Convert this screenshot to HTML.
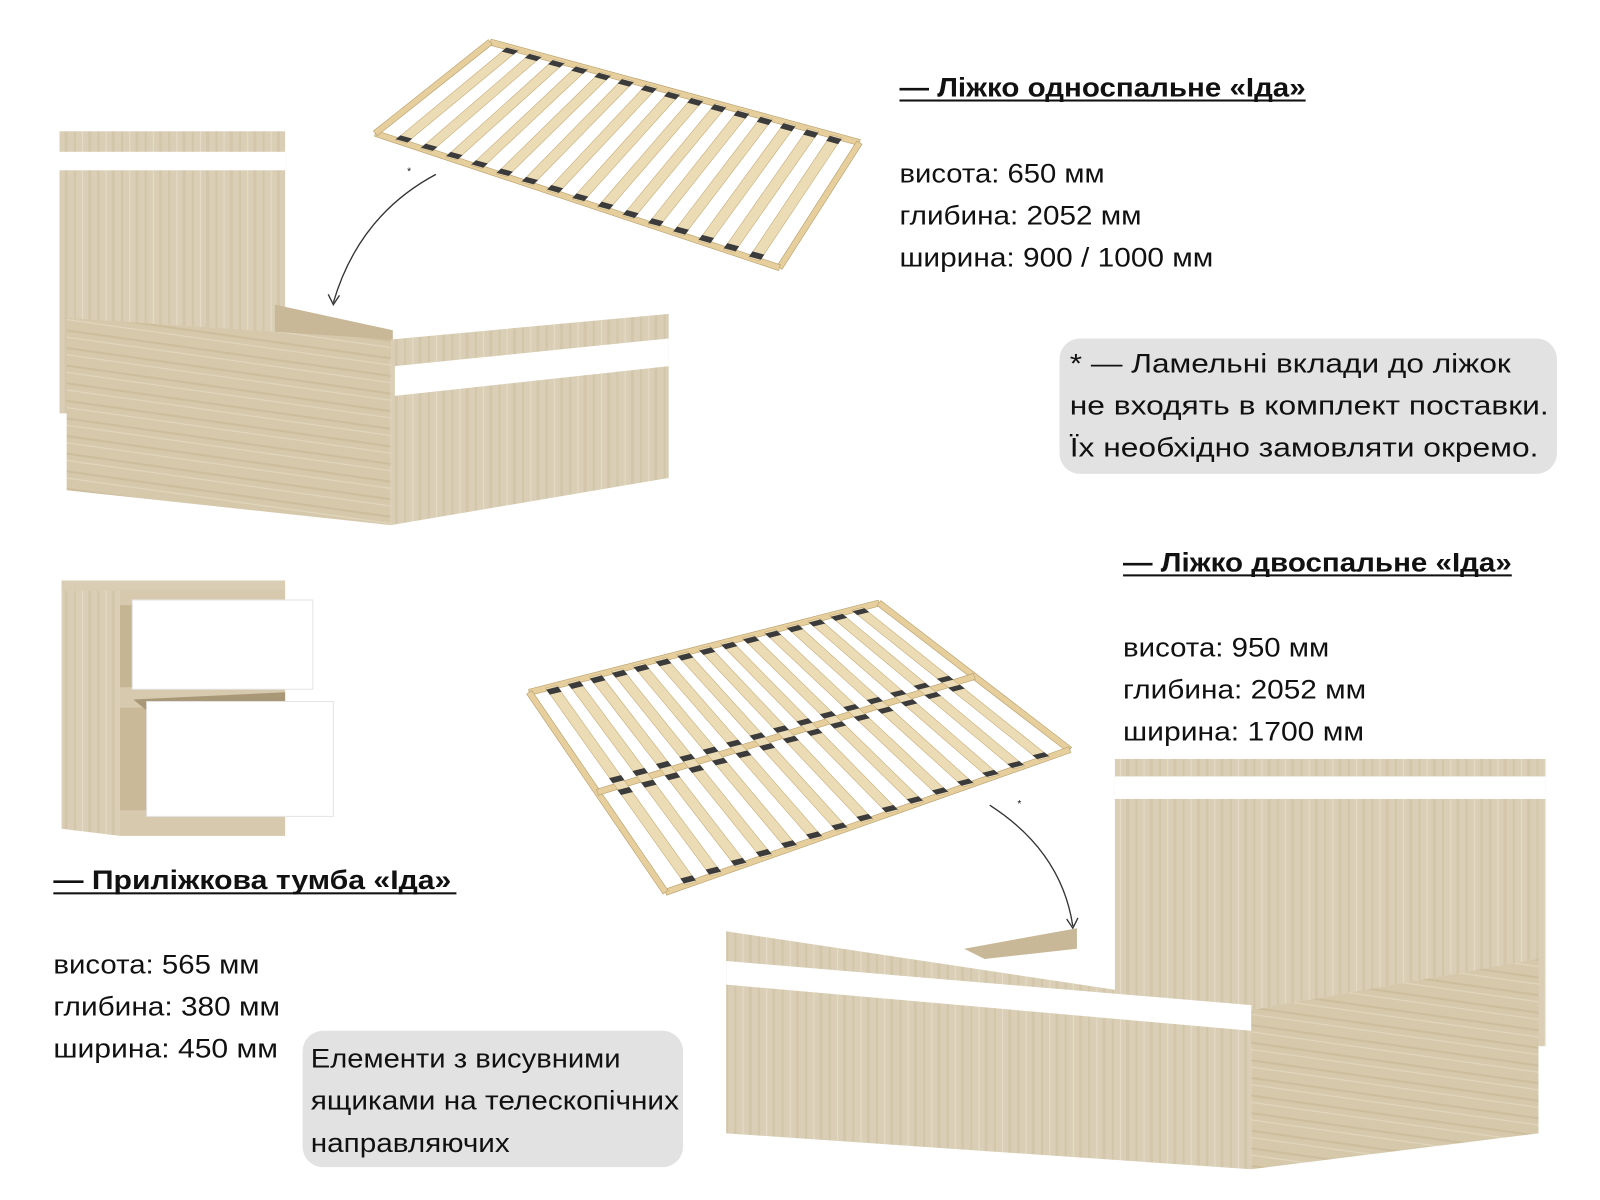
<!DOCTYPE html>
<html><head><meta charset="utf-8">
<style>
html,body{margin:0;padding:0;background:#fff;}
svg{display:block;}
text{font-family:"Liberation Sans","DejaVu Sans",sans-serif;fill:#111;}
.t{font-size:26px;font-weight:bold;}
.s{font-size:26px;}
.b{font-size:26px;}
</style></head><body>
<svg id="sv" width="1600" height="1200" viewBox="0 0 1560 1170" xmlns="http://www.w3.org/2000/svg">
<defs>
<pattern id="gv" width="23" height="60" patternUnits="userSpaceOnUse">
<rect width="23" height="60" fill="#dacfb6"/>
<rect x="3" width="2" height="60" fill="#c9ba98" opacity=".45"/>
<rect x="11" width="1" height="60" fill="#e8dfcb" opacity=".8"/>
<rect x="17" width="3" height="60" fill="#c4b48e" opacity=".3"/>
</pattern>
<pattern id="gh" width="60" height="17" patternUnits="userSpaceOnUse" patternTransform="rotate(8)">
<rect width="60" height="17" fill="#d5c8ab"/>
<rect y="3" width="60" height="2" fill="#c2b08a" opacity=".45"/>
<rect y="10" width="60" height="1" fill="#e6dcc6" opacity=".8"/>
</pattern>
</defs>

<!-- Single bed -->
<rect x="58" y="128" width="220" height="275" fill="url(#gv)"/>
<rect x="58" y="148" width="220" height="18" fill="#fff"/>
<polygon points="268,297 383,322 383,350 268,325" fill="#c8b898"/>
<polygon points="200,320 300,327 300,360 200,345" fill="#cdbd9d"/>
<polygon points="65,310 381,331 381,512 65,478" fill="url(#gh)"/>
<polygon points="381,331 652,306 652,466 381,512" fill="url(#gv)"/>
<polygon points="385,357 652,330 652,357 385,386" fill="#fff"/>

<!-- single slats -->
<g id="s1"></g>
<text x="397" y="170" style="font-size:10px">*</text>
<path d="M425,170 Q350,210 325,295" fill="none" stroke="#333" stroke-width="1.3"/>
<path d="M320,287 L325,297 L331,288" fill="none" stroke="#333" stroke-width="1.3"/>

<!-- Text block 1 -->
<text class="t" x="877" y="94" textLength="396" lengthAdjust="spacingAndGlyphs">— Ліжко односпальне «Іда»</text>
<rect x="877" y="97" width="396" height="2" fill="#111"/>
<text class="s" x="877" y="178" textLength="200" lengthAdjust="spacingAndGlyphs">висота: 650 мм</text>
<text class="s" x="877" y="219" textLength="236" lengthAdjust="spacingAndGlyphs">глибина: 2052 мм</text>
<text class="s" x="877" y="260" textLength="306" lengthAdjust="spacingAndGlyphs">ширина: 900 / 1000 мм</text>

<rect x="1033" y="330" width="485" height="132" rx="20" fill="#e2e2e2"/>
<text class="b" x="1043" y="363" textLength="430" lengthAdjust="spacingAndGlyphs">* — Ламельні вклади до ліжок</text>
<text class="b" x="1043" y="404" textLength="467" lengthAdjust="spacingAndGlyphs">не входять в комплект поставки.</text>
<text class="b" x="1043" y="445" textLength="457" lengthAdjust="spacingAndGlyphs">Їх необхідно замовляти окремо.</text>

<!-- Nightstand -->
<polygon points="60,567 117,575 117,815 60,808" fill="url(#gv)"/>
<rect x="60" y="566" width="218" height="10" fill="#d9cdb3"/>
<rect x="117" y="575" width="161" height="240" fill="#d6c9ad"/>
<rect x="117" y="590" width="15" height="80" fill="#c5b593"/>
<rect x="117" y="690" width="30" height="100" fill="#c9b998"/>
<polygon points="130,682 278,675 278,690 147,696" fill="#a99878"/>
<rect x="129" y="585" width="176" height="87" fill="#fff" stroke="#e4e4e4"/>
<rect x="143" y="684" width="182" height="112" fill="#fff" stroke="#e4e4e4"/>

<text class="t" x="52" y="867" textLength="388" lengthAdjust="spacingAndGlyphs">— Приліжкова тумба «Іда»</text>
<rect x="52" y="870" width="393" height="2" fill="#111"/>
<text class="s" x="52" y="949" textLength="201" lengthAdjust="spacingAndGlyphs">висота: 565 мм</text>
<text class="s" x="52" y="990" textLength="221" lengthAdjust="spacingAndGlyphs">глибина: 380 мм</text>
<text class="s" x="52" y="1031" textLength="219" lengthAdjust="spacingAndGlyphs">ширина: 450 мм</text>

<rect x="295" y="1005" width="371" height="133" rx="20" fill="#e2e2e2"/>
<text class="b" x="303" y="1041" textLength="302" lengthAdjust="spacingAndGlyphs">Елементи з висувними</text>
<text class="b" x="303" y="1082" textLength="359" lengthAdjust="spacingAndGlyphs">ящиками на телескопічних</text>
<text class="b" x="303" y="1123" textLength="194" lengthAdjust="spacingAndGlyphs">направляючих</text>

<!-- Double bed text -->
<text class="t" x="1095" y="557" textLength="379" lengthAdjust="spacingAndGlyphs">— Ліжко двоспальне «Іда»</text>
<rect x="1095" y="560" width="379" height="2" fill="#111"/>
<text class="s" x="1095" y="640" textLength="201" lengthAdjust="spacingAndGlyphs">висота: 950 мм</text>
<text class="s" x="1095" y="681" textLength="237" lengthAdjust="spacingAndGlyphs">глибина: 2052 мм</text>
<text class="s" x="1095" y="722" textLength="235" lengthAdjust="spacingAndGlyphs">ширина: 1700 мм</text>

<!-- Double slats -->
<g id="s2"></g>
<text x="992" y="787" style="font-size:10px">*</text>
<path d="M965,785 Q1035,830 1046,903" fill="none" stroke="#333" stroke-width="1.3"/>
<path d="M1040,896 L1046,905 L1051,895" fill="none" stroke="#333" stroke-width="1.3"/>

<!-- Double bed -->
<rect x="1087" y="740" width="420" height="280" fill="url(#gv)"/>
<rect x="1087" y="757" width="420" height="22" fill="#fff"/>
<polygon points="940,925 1050,905 1050,925 960,935" fill="#c8b898"/>
<polygon points="708,908 1220,985 1220,1140 708,1105" fill="url(#gv)"/>
<polygon points="708,937 1220,980 1220,1005 708,960" fill="#fff"/>
<polygon points="1220,985 1500,935 1500,1105 1220,1140" fill="url(#gh)"/>
</svg>
<script>
var NS="http://www.w3.org/2000/svg";
function poly(g,pts,fill,stroke){var p=document.createElementNS(NS,"polygon");p.setAttribute("points",pts.map(function(a){return a[0].toFixed(1)+","+a[1].toFixed(1)}).join(" "));p.setAttribute("fill",fill);if(stroke){p.setAttribute("stroke",stroke);p.setAttribute("stroke-width","0.6");}g.appendChild(p);}
function L(a,b,t){return [a[0]+(b[0]-a[0])*t,a[1]+(b[1]-a[1])*t];}
function frame(g,A,B,C,D,w){
  var fill="#e6cf9c";
  function bar(p,q){var dx=q[0]-p[0],dy=q[1]-p[1],l=Math.hypot(dx,dy),nx=-dy/l*w/2,ny=dx/l*w/2;
    poly(g,[[p[0]+nx,p[1]+ny],[q[0]+nx,q[1]+ny],[q[0]-nx,q[1]-ny],[p[0]-nx,p[1]-ny]],fill,"#b89f6e");}
  bar(A,B);bar(B,C);bar(C,D);bar(D,A);return bar;
}
function slats(id,A,B,C,D,n,rail){
  var g=document.getElementById(id);
  var bar=frame(g,A,B,C,D,6);
  if(rail){bar(L(A,D,0.5),L(B,C,0.5));}
  for(var i=1;i<=n;i++){var t=i/(n+1);var p=L(A,B,t),q=L(D,C,t);
    var dx=q[0]-p[0],dy=q[1]-p[1],l=Math.hypot(dx,dy);
    var ux=dx/l,uy=dy/l;var ax=(B[0]-A[0]),ay=(B[1]-A[1]),al=Math.hypot(ax,ay);ax/=al;ay/=al;var hw=5.5;
    poly(g,[[p[0]-ax*hw,p[1]-ay*hw],[p[0]+ax*hw,p[1]+ay*hw],[q[0]+ax*hw,q[1]+ay*hw],[q[0]-ax*hw,q[1]-ay*hw]],"#ecdcb6","#c7ad7a");
    var caps=rail?[0.02,0.47,0.53,0.98]:[0.03,0.97];
    caps.forEach(function(c){var m=L(p,q,c);poly(g,[[m[0]-ax*6-ux*3,m[1]-ay*6-uy*3],[m[0]+ax*6-ux*3,m[1]+ay*6-uy*3],[m[0]+ax*6+ux*3,m[1]+ay*6+uy*3],[m[0]-ax*6+ux*3,m[1]-ay*6+uy*3]],"#3b3b3b");});
  }
}
slats("s1",[478,41],[838,139],[760,261],[366,130],15,false);
slats("s2",[516,675],[857,588],[1043,731],[649,870],15,true);
</script>
</body></html>
